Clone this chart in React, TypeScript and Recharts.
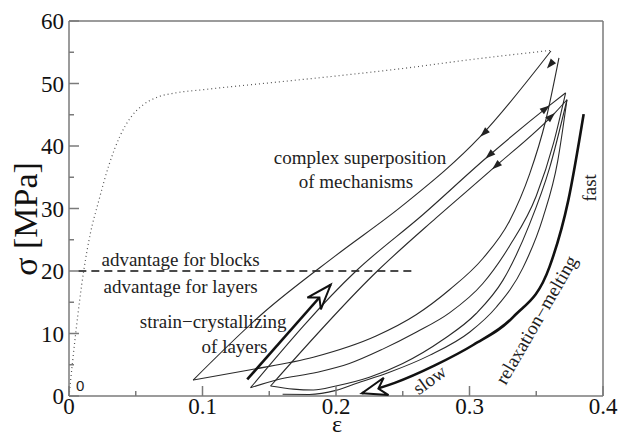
import React from 'react';
import { ComposedChart, Line, Scatter, XAxis, YAxis } from 'recharts';

type Pt = { x: number; y: number };
const pts = (a: number[][]): Pt[] => a.map(([x, y]) => ({ x, y }));

// monotonic reference curve (dotted)
const dotted = pts([
  [0, 0], [0.005, 10], [0.011, 20], [0.016, 26], [0.022, 31], [0.03, 37], [0.038, 41.5],
  [0.046, 44.5], [0.055, 46.5], [0.066, 47.8], [0.08, 48.5], [0.1, 49], [0.15, 50.1],
  [0.2, 51.2], [0.25, 52.4], [0.3, 53.8], [0.361, 55.3],
]);

// unloading branches
const unload1 = pts([[0.093, 2.55], [0.145, 13.2], [0.2, 22.5], [0.25, 30.5], [0.308, 41.5], [0.361, 55.2]]);
const unload2 = pts([[0.136, 1.33], [0.215, 20], [0.265, 29], [0.312, 38], [0.36, 46.5], [0.372, 48.5]]);
const unload3 = pts([[0.151, 1.6], [0.231, 20], [0.275, 28.5], [0.317, 36.3], [0.364, 45.3], [0.373, 47.4]]);

// reloading branches
const reload1 = pts([
  [0.093, 2.55], [0.136, 4.2], [0.183, 6.2], [0.23, 9.6], [0.26, 13], [0.285, 17],
  [0.31, 22], [0.33, 28], [0.345, 35.5], [0.357, 44], [0.367, 54.1],
]);
const reload2 = pts([
  [0.136, 1.33], [0.156, 2.6], [0.186, 3.8], [0.21, 5.2], [0.235, 7.5], [0.26, 10.2],
  [0.285, 13.3], [0.31, 18], [0.33, 24], [0.35, 32], [0.363, 40.5], [0.372, 48.5],
]);
const reload3 = pts([
  [0.151, 1.6], [0.168, 1.1], [0.183, 0.96], [0.2, 1.6], [0.225, 3], [0.25, 5.2],
  [0.28, 9], [0.305, 13.2], [0.325, 18.5], [0.345, 27.5], [0.36, 36.5], [0.373, 47.4],
]);
const reload4 = pts([
  [0.16, 0.27], [0.18, 0.25], [0.2, 0.9], [0.215, 2], [0.24, 3.8], [0.27, 6.5],
  [0.3, 10.2], [0.32, 14.2], [0.34, 20.5], [0.355, 28.5], [0.366, 37.5], [0.373, 47.4],
]);

// thick guide arrows
const crystArrow = pts([[0.1335, 2.65], [0.196, 17.8]]);
const relaxArrow = pts([
  [0.3855, 45.1], [0.374, 31.3], [0.36, 20.7], [0.333, 12.7], [0.303, 8.2],
  [0.274, 4.9], [0.244, 2.1], [0.2195, 0.45],
]);

const threshold = pts([[0.007, 20], [0.257, 20]]);

// small filled arrows on branches: slope in data units, dir -1 = down-left
const arrowMarks = [
  { x: 0.358, y: 52.4, s: 250, d: -1 },
  { x: 0.308, y: 41.5, s: 200, d: -1 },
  { x: 0.312, y: 38.0, s: 190, d: -1 },
  { x: 0.317, y: 36.3, s: 186, d: -1 },
  { x: 0.36, y: 46.5, s: 170, d: 1 },
  { x: 0.364, y: 45.3, s: 200, d: 1 },
];
const openHeads = [
  { x: 0.196, y: 17.8, s: 242, d: 1 },
  { x: 0.2195, y: 0.45, s: 60, d: -1 },
];

const notes = [
  { x: 0.0836, y: 21.8, text: 'advantage for blocks', size: 19, angle: 0 },
  { x: 0.0836, y: 17.5, text: 'advantage for layers', size: 19, angle: 0 },
  { x: 0.108, y: 11.9, text: 'strain\u2212crystallizing', size: 19, angle: 0 },
  { x: 0.124, y: 8.0, text: 'of layers', size: 19, angle: 0 },
  { x: 0.218, y: 38.1, text: 'complex superposition', size: 19, angle: 0 },
  { x: 0.215, y: 34.3, text: 'of mechanisms', size: 19, angle: 0 },
  { x: 0.39, y: 33.3, text: 'fast', size: 19, angle: -90 },
  { x: 0.35, y: 12.2, text: 'relaxation\u2212melting', size: 19, angle: -60 },
  { x: 0.27, y: 2.6, text: 'slow', size: 19, angle: -36 },
];

const xTicks = [0, 0.05, 0.1, 0.15, 0.2, 0.25, 0.3, 0.35, 0.4];
const yTicks = [0, 5, 10, 15, 20, 25, 30, 35, 40, 45, 50, 55, 60];

const W = 623;
const H = 438;
const M = { top: 20, right: 19, bottom: 41, left: 68 };
const KX = (W - M.left - M.right - 2) / 0.4;
const KY = (H - M.top - M.bottom - 2) / 60;
const FONT = '"Liberation Serif", "Times New Roman", serif';
const FRAME = '#7a7a7a';

const isMajorX = (v: number) => Math.round(v * 100) % 10 === 0;
const isMajorY = (v: number) => Math.round(v) % 10 === 0;

const BottomTick = ({ x, y, payload }: any) => {
  const major = isMajorX(payload.value);
  return (
    <g>
      <line x1={x} y1={y} x2={x} y2={y - (major ? 10 : 5)} stroke={FRAME} strokeWidth={1.5} />
      {major && (
        <text x={x} y={y + 18} textAnchor="middle" fontFamily={FONT} fontSize={23} fill="#111">
          {payload.value}
        </text>
      )}
    </g>
  );
};
const TopTick = ({ x, y, payload }: any) => (
  <line x1={x} y1={y} x2={x} y2={y + (isMajorX(payload.value) ? 10 : 5)} stroke={FRAME} strokeWidth={1.5} />
);
const LeftTick = ({ x, y, payload }: any) => {
  const major = isMajorY(payload.value);
  return (
    <g>
      <line x1={x} y1={y} x2={x + (major ? 10 : 5)} y2={y} stroke={FRAME} strokeWidth={1.5} />
      {major && (
        <text x={x - 5} y={y + 8} textAnchor="end" fontFamily={FONT} fontSize={23} fill="#111">
          {payload.value}
        </text>
      )}
    </g>
  );
};
const RightTick = ({ x, y, payload }: any) => (
  <line x1={x} y1={y} x2={x - (isMajorY(payload.value) ? 10 : 5)} y2={y} stroke={FRAME} strokeWidth={1.5} />
);

const angleOf = (s: number, d: number) => (Math.atan2(-d * s * KY, d * KX) * 180) / Math.PI;

const SmallArrow = (p: any) => {
  const { cx, cy, payload } = p;
  return (
    <polygon
      points="0,0 -10,-3.5 -10,3.5"
      fill="#222"
      transform={`translate(${cx},${cy}) rotate(${angleOf(payload.s, payload.d)})`}
    />
  );
};
const OpenHead = (p: any) => {
  const { cx, cy, payload } = p;
  return (
    <polygon
      points="0,0 -25,-9 -17,0 -25,9"
      fill="#fff"
      stroke="#111"
      strokeWidth={2}
      strokeLinejoin="miter"
      transform={`translate(${cx},${cy}) rotate(${angleOf(payload.s, payload.d)})`}
    />
  );
};
const Note = (p: any) => {
  const { cx, cy, payload } = p;
  return (
    <text
      x={cx}
      y={cy}
      textAnchor="middle"
      dominantBaseline="central"
      fontFamily={FONT}
      fontSize={payload.size}
      fill="#222"
      transform={payload.angle ? `rotate(${payload.angle},${cx},${cy})` : undefined}
    >
      {payload.text}
    </text>
  );
};

const thin = { stroke: '#2a2a2a', strokeWidth: 1.1, dot: false, isAnimationActive: false, type: 'monotone' as const };
const axisStyle = { stroke: FRAME, strokeWidth: 1.5 };

export default function App() {
  return (
    <div style={{ position: 'absolute', left: 0, top: 0, width: W, height: H, background: '#fff' }}>
      <ComposedChart width={W} height={H} margin={M}>
        <XAxis
          type="number"
          dataKey="x"
          domain={[0, 0.4]}
          ticks={xTicks}
          interval={0}
          height={1}
          tickSize={0}
          tickMargin={0}
          tick={BottomTick}
          axisLine={axisStyle}
        />
        <XAxis
          xAxisId="top"
          orientation="top"
          type="number"
          dataKey="x"
          domain={[0, 0.4]}
          ticks={xTicks}
          interval={0}
          height={1}
          tickSize={0}
          tickMargin={0}
          tick={TopTick}
          axisLine={axisStyle}
        />
        <YAxis
          type="number"
          domain={[0, 60]}
          ticks={yTicks}
          interval={0}
          width={1}
          tickSize={0}
          tickMargin={0}
          tick={LeftTick}
          axisLine={axisStyle}
        />
        <YAxis
          yAxisId="right"
          orientation="right"
          type="number"
          domain={[0, 60]}
          ticks={yTicks}
          interval={0}
          width={1}
          tickSize={0}
          tickMargin={0}
          tick={RightTick}
          axisLine={axisStyle}
        />

        <Line data={dotted} dataKey="y" type="monotone" stroke="#555" strokeWidth={1.2} strokeDasharray="1 3" dot={false} isAnimationActive={false} />
        <Line data={threshold} dataKey="y" type="linear" stroke="#111" strokeWidth={1.5} strokeDasharray="8 5" dot={false} isAnimationActive={false} />
        <Line data={unload1} dataKey="y" {...thin} />
        <Line data={unload2} dataKey="y" {...thin} />
        <Line data={unload3} dataKey="y" {...thin} />
        <Line data={reload1} dataKey="y" {...thin} />
        <Line data={reload2} dataKey="y" {...thin} />
        <Line data={reload3} dataKey="y" {...thin} />
        <Line data={reload4} dataKey="y" {...thin} />
        <Line data={crystArrow} dataKey="y" type="linear" stroke="#111" strokeWidth={2.6} dot={false} isAnimationActive={false} />
        <Line data={relaxArrow} dataKey="y" type="monotone" stroke="#111" strokeWidth={2.6} dot={false} isAnimationActive={false} />

        <Scatter data={arrowMarks} dataKey="y" shape={SmallArrow} isAnimationActive={false} />
        <Scatter data={openHeads} dataKey="y" shape={OpenHead} isAnimationActive={false} />
        <Scatter data={notes} dataKey="y" shape={Note} isAnimationActive={false} />
      </ComposedChart>
      <div style={{ position: 'absolute', left: 76, top: 377, fontFamily: '"Liberation Sans", Arial, sans-serif', fontSize: 15, color: '#222' }}>0</div>
      <div
        style={{
          position: 'absolute',
          left: 26,
          top: 219,
          transform: 'translate(-50%, -50%) rotate(-90deg)',
          fontFamily: FONT,
          fontSize: 34,
          whiteSpace: 'nowrap',
          color: '#111',
        }}
      >
        σ [MPa]
      </div>
      <svg width={W} height={H} style={{ position: 'absolute', left: 0, top: 0, pointerEvents: 'none' }}>
        <text x={337} y={432} textAnchor="middle" fontFamily={FONT} fontSize={24} fill="#111">
          ε
        </text>
      </svg>
    </div>
  );
}
